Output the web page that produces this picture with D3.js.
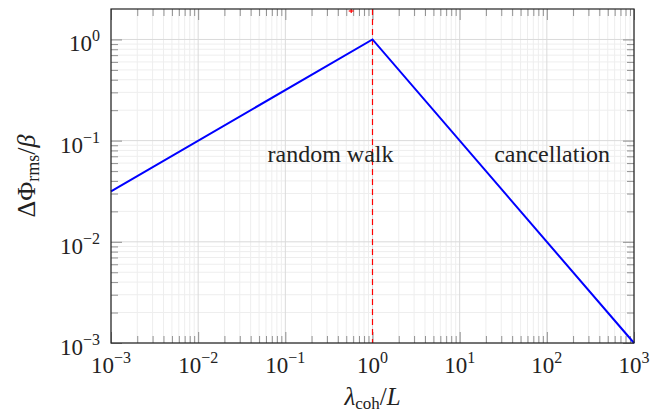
<!DOCTYPE html>
<html>
<head>
<meta charset="utf-8">
<script src="https://cdn.jsdelivr.net/npm/d3@7"></script>
<style>
  body { margin: 0; background: #fff; }
</style>
</head>
<body>
<svg id="chart" width="663" height="413" font-family="'Liberation Serif', 'DejaVu Serif', serif"></svg>
<script>
// data
var xDomain = [1e-3, 1e3];
var yDomain = [1e-3, 2];
var xTicks = [1e-3, 1e-2, 1e-1, 1e0, 1e1, 1e2, 1e3];
var yTicks = [1e-3, 1e-2, 1e-1, 1e0];
var curveX = [1e-3, 1, 1e3];
var curveY = [0.0316, 1, 1e-3];
var crossover = 1;
var labels = [
  {text: "random walk", x: 0.33, y: 0.061},
  {text: "cancellation", x: 115, y: 0.061}
];

var margin = {top: 9, right: 29, bottom: 70, left: 111};
var width = 663 - margin.left - margin.right,
    height = 413 - margin.top - margin.bottom;

var svg = d3.select("#chart");
var g = svg.append("g")
    .attr("transform", "translate(" + margin.left + "," + margin.top + ")");

var x = d3.scaleLog().domain(xDomain).range([0, width]);
var y = d3.scaleLog().domain(yDomain).range([height, 0]);

// 2..9 in each decade, for minor grid and ticks
function minorVals(lo, hi) {
  var out = [];
  for (var e = Math.floor(Math.log10(lo)); e <= Math.ceil(Math.log10(hi)); e++) {
    for (var m = 2; m <= 9; m++) {
      var v = m * Math.pow(10, e);
      if (v > lo && v < hi) out.push(v);
    }
  }
  return out;
}
var xMinor = minorVals(xDomain[0], xDomain[1]);
var yMinor = minorVals(yDomain[0], yDomain[1]);

var grid = g.append("g").attr("class", "grid");
grid.selectAll(".xminor").data(xMinor).enter().append("line")
    .attr("x1", function(d) { return x(d); }).attr("x2", function(d) { return x(d); })
    .attr("y1", 0).attr("y2", height)
    .attr("stroke", "#eeeeee").attr("stroke-width", 1);
grid.selectAll(".yminor").data(yMinor).enter().append("line")
    .attr("y1", function(d) { return y(d); }).attr("y2", function(d) { return y(d); })
    .attr("x1", 0).attr("x2", width)
    .attr("stroke", "#eeeeee").attr("stroke-width", 1);
grid.selectAll(".xmajor").data(xTicks).enter().append("line")
    .attr("x1", function(d) { return x(d); }).attr("x2", function(d) { return x(d); })
    .attr("y1", 0).attr("y2", height)
    .attr("stroke", "#dadada").attr("stroke-width", 1);
grid.selectAll(".ymajor").data(yTicks).enter().append("line")
    .attr("y1", function(d) { return y(d); }).attr("y2", function(d) { return y(d); })
    .attr("x1", 0).attr("x2", width)
    .attr("stroke", "#dadada").attr("stroke-width", 1);

// inward ticks on all four sides
function addAxis(axis, transform) {
  var a = g.append("g").attr("transform", transform).call(axis);
  a.select(".domain").remove();
  a.selectAll("text").remove();
  a.selectAll("line").attr("stroke", "#777").attr("stroke-width", 0.8);
  return a;
}
var majLen = 11, minLen = 7;
addAxis(d3.axisBottom(x).tickValues(xTicks).tickSize(-majLen), "translate(0," + height + ")");
addAxis(d3.axisBottom(x).tickValues(xMinor).tickSize(-minLen), "translate(0," + height + ")");
addAxis(d3.axisTop(x).tickValues(xTicks).tickSize(-majLen), "translate(0,0)");
addAxis(d3.axisTop(x).tickValues(xMinor).tickSize(-minLen), "translate(0,0)");
addAxis(d3.axisLeft(y).tickValues(yTicks).tickSize(-majLen), "translate(0,0)");
addAxis(d3.axisLeft(y).tickValues(yMinor).tickSize(-minLen), "translate(0,0)");
addAxis(d3.axisRight(y).tickValues(yTicks).tickSize(-majLen), "translate(" + width + ",0)");
addAxis(d3.axisRight(y).tickValues(yMinor).tickSize(-minLen), "translate(" + width + ",0)");

var textColor = "#222";

// tick labels as 10^n
function powLabel(sel, d) {
  var e = Math.round(Math.log10(d));
  sel.append("tspan").text("10").attr("font-size", 23);
  sel.append("tspan").text(e < 0 ? "\u2212" + (-e) : e)
      .attr("font-size", 16).attr("dy", -10);
}
g.selectAll(".xlab").data(xTicks).enter().append("text")
    .attr("x", function(d) { return x(d); })
    .attr("y", height + 30)
    .attr("text-anchor", "middle")
    .attr("fill", textColor)
    .each(function(d) { powLabel(d3.select(this), d); });
g.selectAll(".ylab").data(yTicks).enter().append("text")
    .attr("x", -11)
    .attr("y", function(d) { return y(d) + 12; })
    .attr("text-anchor", "end")
    .attr("fill", textColor)
    .each(function(d) { powLabel(d3.select(this), d); });

// dashed crossover line
g.append("line")
    .attr("x1", x(crossover)).attr("x2", x(crossover))
    .attr("y1", 0).attr("y2", height)
    .attr("stroke", "#ff0000").attr("stroke-width", 1.2)
    .attr("stroke-dasharray", "6,4");

// small red mark at the top edge
g.append("line")
    .attr("x1", x(0.57)).attr("x2", x(0.57))
    .attr("y1", 0).attr("y2", 4)
    .attr("stroke", "#ff0000").attr("stroke-width", 1.2);
g.append("line")
    .attr("x1", x(0.57) - 2.5).attr("x2", x(0.57) + 2.5)
    .attr("y1", 2).attr("y2", 2)
    .attr("stroke", "#ff0000").attr("stroke-width", 1.2);

// curve
var line = d3.line()
    .x(function(d) { return x(d[0]); })
    .y(function(d) { return y(d[1]); });
g.append("path")
    .datum(d3.zip(curveX, curveY))
    .attr("d", line)
    .attr("fill", "none")
    .attr("stroke", "#0000ff")
    .attr("stroke-width", 2);

// frame
g.append("rect")
    .attr("width", width).attr("height", height)
    .attr("fill", "none").attr("stroke", "#222").attr("stroke-width", 1.2);

// region labels
g.selectAll(".reg").data(labels).enter().append("text")
    .attr("x", function(d) { return x(d.x); })
    .attr("y", function(d) { return y(d.y); })
    .attr("text-anchor", "middle")
    .attr("font-size", 24)
    .attr("fill", textColor)
    .text(function(d) { return d.text; });

// axis titles
var xt = svg.append("text")
    .attr("x", margin.left + width / 2)
    .attr("y", 405)
    .attr("text-anchor", "middle")
    .attr("fill", textColor)
    .attr("font-size", 25);
xt.append("tspan").text("\u03bb").attr("font-style", "italic");
xt.append("tspan").text("coh").attr("font-size", 17).attr("dy", 4);
xt.append("tspan").text("/").attr("dy", -4);
xt.append("tspan").text("L").attr("font-style", "italic");

var yt = svg.append("text")
    .attr("transform", "translate(35," + (margin.top + height / 2) + ") rotate(-90)")
    .attr("text-anchor", "middle")
    .attr("fill", textColor)
    .attr("font-size", 26);
yt.append("tspan").text("\u0394\u03a6");
yt.append("tspan").text("rms").attr("font-size", 18).attr("dy", 4);
yt.append("tspan").text("/").attr("dy", -4);
yt.append("tspan").text("\u03b2").attr("font-style", "italic");
</script>
</body>
</html>
